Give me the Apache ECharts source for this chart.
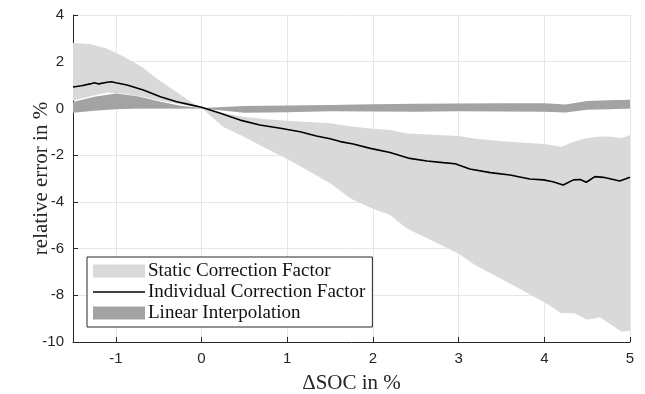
<!DOCTYPE html>
<html>
<head>
<meta charset="utf-8">
<script src="https://cdn.jsdelivr.net/npm/echarts@6/dist/echarts.min.js"></script>
<style>
html,body{margin:0;padding:0;background:#fff;}
#chart{width:645px;height:394px;}
</style>
</head>
<body>
<div id="chart"></div>
<script>
// ---- data ----
const staticX     = [-1.5,-1.3,-1.1,-0.9,-0.7,-0.5,-0.3,-0.1,0,0.25,0.5,0.75,1,1.25,1.5,1.75,2,2.2,2.4,2.7,3,3.2,3.55,4,4.2,4.35,4.5,4.65,4.8,4.9,5];
const staticUpper = [2.8,2.76,2.55,2.2,1.78,1.22,0.72,0.22,0.03,-0.2,-0.36,-0.46,-0.53,-0.58,-0.63,-0.77,-0.87,-0.92,-1.07,-1.13,-1.18,-1.3,-1.42,-1.52,-1.64,-1.42,-1.27,-1.2,-1.21,-1.28,-1.14];
const staticLower = [0.33,0.52,0.68,0.63,0.5,0.35,0.21,0.09,0.02,-0.78,-1.22,-1.7,-2.17,-2.68,-3.2,-3.88,-4.3,-4.56,-5.15,-5.68,-6.22,-6.72,-7.4,-8.3,-8.77,-8.77,-9.05,-8.94,-9.3,-9.56,-9.52];

const linX     = [-1.5,-1.25,-1,-0.75,-0.5,-0.25,0,0.5,1,1.5,2,2.5,3,3.5,4,4.25,4.5,4.75,5];
const linUpper = [0.28,0.5,0.64,0.52,0.31,0.12,0.02,0.1,0.13,0.15,0.18,0.2,0.21,0.22,0.22,0.17,0.32,0.35,0.37];
const linLower = [-0.18,-0.1,-0.03,0,0,0,0,-0.18,-0.16,-0.12,-0.13,-0.14,-0.12,-0.13,-0.14,-0.17,-0.06,-0.03,0.0];

const indivX = [-1.5,-1.4,-1.3,-1.25,-1.2,-1.1,-1.05,-1.0,-0.87,-0.68,-0.48,-0.29,-0.1,0,0.22,0.45,0.68,0.92,1.15,1.34,1.5,1.62,1.77,1.97,2.2,2.43,2.63,2.82,2.96,3.13,3.37,3.6,3.83,3.99,4.1,4.22,4.34,4.42,4.49,4.59,4.69,4.88,5];
const indivY = [0.92,0.97,1.05,1.1,1.05,1.12,1.14,1.1,1.0,0.79,0.5,0.29,0.13,0.05,-0.21,-0.5,-0.71,-0.85,-1.0,-1.18,-1.3,-1.42,-1.52,-1.71,-1.89,-2.14,-2.25,-2.32,-2.37,-2.59,-2.75,-2.85,-3.02,-3.06,-3.14,-3.28,-3.06,-3.04,-3.16,-2.92,-2.95,-3.11,-2.95];

const xTicks = [-1,0,1,2,3,4,5];

const names = ['Static Correction Factor','Individual Correction Factor','Linear Interpolation'];
const xTitle = 'ΔSOC in %';
const yTitle = 'relative error in %';

// ---- build ----
const cStatic = '#d9d9d9', cLin = '#a3a3a3', cText = '#262626';
const sansFont = 'Liberation Sans, Arial, sans-serif';
const serifFont = 'Liberation Serif, Times New Roman, serif';

function bandSeries(name, xs, lo, up, color, z) {
  return {
    type:'custom', name:name, z:z, clip:true, silent:true,
    itemStyle:{color:color},
    encode:{x:0, y:[1,2]},
    data: xs.map((x,i)=>[x, lo[i], up[i]]),
    renderItem: function(params, api){
      if (params.dataIndex !== 0) return null;
      const pts = [];
      for (let i=0;i<xs.length;i++) pts.push(api.coord([xs[i], up[i]]));
      for (let i=xs.length-1;i>=0;i--) pts.push(api.coord([xs[i], lo[i]]));
      return {type:'polygon', shape:{points:pts}, style:{fill:color}};
    }
  };
}

const chart = echarts.init(document.getElementById('chart'), null, {renderer:'canvas'});
chart.setOption({
  animation:false,
  backgroundColor:'#fff',
  grid:{left:73, right:15, top:15, bottom:52, containLabel:false, outerBoundsMode:'none'},
  legend:{
    orient:'vertical', left:87, top:257,
    itemWidth:52, itemHeight:13, itemGap:0,
    padding:[3.5,7,3.5,6],
    backgroundColor:'#fff', borderColor:cText, borderWidth:1,
    textStyle:{fontFamily:serifFont, fontSize:19, lineHeight:21, color:'#111', padding:[0,0,0,-2]},
    data:[
      {name:names[0], icon:'rect', itemStyle:{color:cStatic}},
      {name:names[1], icon:'path://M0,0 M52,13 M0,5.8 L52,5.8 L52,7.2 L0,7.2 Z', itemStyle:{color:'#000', borderWidth:0}, lineStyle:{width:0}},
      {name:names[2], icon:'rect', itemStyle:{color:cLin}}
    ]
  },
  xAxis:{
    type:'value', min:-1.5, max:5,
    name:xTitle, nameLocation:'middle', nameGap:31, nameMoveOverlap:false,
    nameTextStyle:{fontFamily:serifFont, fontSize:21, color:cText},
    axisLine:{show:true, onZero:false, lineStyle:{color:cText, width:1}},
    axisTick:{show:true, inside:true, length:5, customValues:xTicks, lineStyle:{color:cText}},
    axisLabel:{customValues:xTicks, margin:9, fontFamily:sansFont, fontSize:15, color:cText},
    splitLine:{show:true, customValues:xTicks, lineStyle:{color:'#e6e6e6', width:1}}
  },
  yAxis:{
    type:'value', min:-10, max:4, interval:2,
    name:yTitle, nameLocation:'middle', nameGap:21, nameMoveOverlap:false,
    nameTextStyle:{fontFamily:serifFont, fontSize:21, color:cText},
    axisLine:{show:true, onZero:false, lineStyle:{color:cText, width:1}},
    axisTick:{show:true, inside:true, length:5, lineStyle:{color:cText}},
    axisLabel:{margin:9, fontFamily:sansFont, fontSize:15, color:cText},
    splitLine:{show:true, lineStyle:{color:'#e6e6e6', width:1}}
  },
  series:[
    bandSeries(names[0], staticX, staticLower, staticUpper, cStatic, 2),
    bandSeries(names[2], linX, linLower, linUpper, cLin, 3),
    {type:'line', name:names[1], symbol:'none', z:4, data:indivX.map((x,i)=>[x, indivY[i]]),
      lineStyle:{color:'#000', width:1.6}, itemStyle:{color:'#000'}}
  ]
});
</script>
</body>
</html>
